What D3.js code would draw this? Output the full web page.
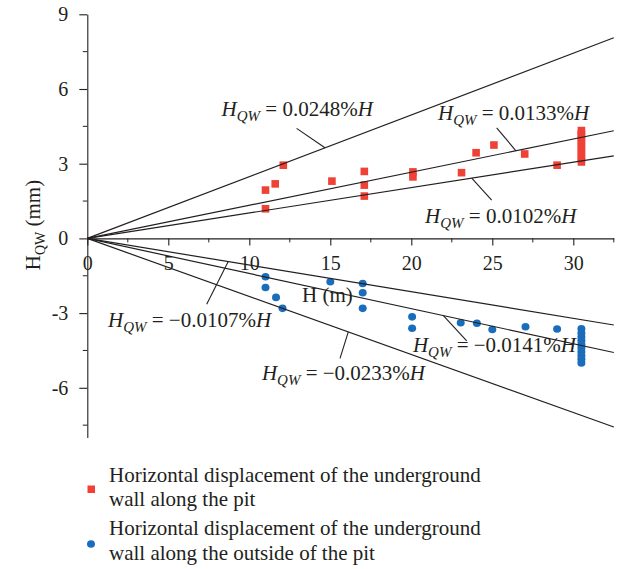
<!DOCTYPE html>
<html>
<head>
<meta charset="utf-8">
<script src="https://cdn.jsdelivr.net/npm/d3@7"></script>
<style>
  body { margin: 0; background: #fff; }
  svg { display: block; }
  text { font-family: "Liberation Serif", "Times New Roman", serif; fill: #231f20; }
</style>
</head>
<body>
<div id="chart"></div>
<script>
// wall along the pit (red squares)
var wallH = [11, 11.6, 12.1, 11, 15.1, 17.1, 17.1, 17.1, 20.1, 20.1, 23.1, 24, 25.1, 27, 29,
             30.5, 30.5, 30.5, 30.5, 30.5, 30.5, 30.5, 30.5, 30.5, 30.5];
var wallV = [1.94, 2.19, 2.94, 1.19, 2.30, 2.69, 2.14, 1.70, 2.67, 2.47, 2.64, 3.44, 3.75, 3.39, 2.94,
             3.07, 3.2, 3.35, 3.5, 3.65, 3.8, 3.95, 4.1, 4.2, 4.33];

// wall along the outside of the pit (blue dots)
var outH = [11, 11, 11.65, 12.05, 15, 17, 17, 17, 20.05, 20.05, 23.05, 24.05, 25, 27.05, 29,
            30.5, 30.5, 30.5, 30.5, 30.5, 30.5, 30.5, 30.5, 30.5, 30.5];
var outV = [-1.54, -1.97, -2.37, -2.81, -1.74, -1.81, -2.18, -2.81, -3.15, -3.61, -3.39, -3.41, -3.66, -3.55, -3.64,
            -3.63, -3.8, -3.95, -4.1, -4.25, -4.4, -4.55, -4.7, -4.85, -5.0];

// fitted lines, H_QW = k% H  (H in m, H_QW in mm)
var slopes = [0.0248, 0.0133, 0.0102, -0.0107, -0.0141, -0.0233];
var slopeText = ["0.0248", "0.0133", "0.0102", "\u22120.0107", "\u22120.0141", "\u22120.0233"];

var xTicks = [0, 5, 10, 15, 20, 25, 30];
var yTicks = [-6, -3, 0, 3, 6, 9];

var legendText = [
  ["Horizontal displacement of the underground", "wall along the pit"],
  ["Horizontal displacement of the underground", "wall along the outside of the pit"]
];

var red = "#ef4136", blue = "#1a6dbb";

var svg = d3.select("#chart").append("svg")
  .attr("width", 618).attr("height", 569);

var x = d3.scaleLinear().domain([0, 32.5]).range([87.3, 613.8]);
var y = d3.scaleLinear().domain([-8, 9]).range([437.6, 14.3]);

function fit(k, h) { return k * 10 * h; }

// y axis
var yAxis = d3.axisLeft(y).tickValues(yTicks).tickSize(8).tickSizeOuter(0).tickPadding(11)
  .tickFormat(function(d) { return d; });
var gy = svg.append("g").attr("transform", "translate(" + x(0) + ",0)").call(yAxis);
gy.selectAll("text").style("font-size", "20px").style("font-family", "Liberation Serif");
gy.append("g").selectAll("line")
  .data(d3.range(-7.5, 9, 3))
  .enter().append("line")
  .attr("x1", -4.5).attr("x2", 0)
  .attr("y1", function(d) { return y(d); }).attr("y2", function(d) { return y(d); })
  .attr("stroke", "#231f20");

// x axis
var xAxis = d3.axisBottom(x).tickValues(xTicks).tickSize(7).tickSizeOuter(0).tickPadding(10);
var gx = svg.append("g").attr("transform", "translate(0," + y(0) + ")").call(xAxis);
gx.selectAll("text").style("font-size", "20px").style("font-family", "Liberation Serif");
gx.append("g").selectAll("line")
  .data(d3.range(2.5, 33, 5))
  .enter().append("line")
  .attr("x1", function(d) { return x(d); }).attr("x2", function(d) { return x(d); })
  .attr("y1", 0).attr("y2", 4)
  .attr("stroke", "#231f20");
svg.selectAll(".domain, .tick line").attr("stroke", "#231f20").attr("stroke-width", 1.1);

// axis titles
svg.append("text").attr("x", 302).attr("y", 302).style("font-size", "21px").text("H (m)");
var yl = svg.append("text")
  .attr("transform", "translate(40,225) rotate(-90)")
  .attr("text-anchor", "middle").style("font-size", "21px");
yl.append("tspan").text("H");
yl.append("tspan").attr("dy", 5).style("font-size", "14px").text("QW");
yl.append("tspan").attr("dy", -5).text(" (mm)");

// points
svg.append("g").selectAll("rect")
  .data(wallH)
  .enter().append("rect")
  .attr("x", function(d) { return x(d) - 3.8; })
  .attr("y", function(d, i) { return y(wallV[i]) - 3.8; })
  .attr("width", 7.6).attr("height", 7.6)
  .attr("fill", red);

svg.append("g").selectAll("ellipse")
  .data(outH)
  .enter().append("ellipse")
  .attr("cx", function(d) { return x(d); })
  .attr("cy", function(d, i) { return y(outV[i]); })
  .attr("rx", 4).attr("ry", 3.8)
  .attr("fill", blue);

// fitted lines
svg.append("g").selectAll("line")
  .data(slopes)
  .enter().append("line")
  .attr("x1", x(0)).attr("y1", y(0))
  .attr("x2", x(32.5)).attr("y2", function(k) { return y(fit(k, 32.5)); })
  .attr("stroke", "#231f20").attr("stroke-width", 1.2);

// labels: [H on the line, leader end H, leader end V, text H, text V]
var anno = [
  [14.67, 12.92, 4.42, 8.29, 4.91],
  [26.46, 25.27, 4.44, 21.65, 4.75],
  [23.73, 24.96, 1.54, 20.85, 0.63],
  [8.70, 7.37, -2.64, 1.28, -3.55],
  [21.98, 23.42, -4.12, 20.1, -4.55],
  [16.11, 15.6, -4.82, 10.78, -5.69]
];

anno.forEach(function(a, i) {
  var k = slopes[i];
  svg.append("line")
    .attr("x1", x(a[0])).attr("y1", y(fit(k, a[0])))
    .attr("x2", x(a[1])).attr("y2", y(a[2]))
    .attr("stroke", "#231f20").attr("stroke-width", 1.1);
  var t = svg.append("text")
    .attr("x", x(a[3])).attr("y", y(a[4]))
    .style("font-size", "21px");
  t.append("tspan").style("font-style", "italic").text("H");
  t.append("tspan").attr("dy", 5).style("font-style", "italic").style("font-size", "15px").text("QW");
  t.append("tspan").attr("dy", -5).text(" = " + slopeText[i] + "%");
  t.append("tspan").style("font-style", "italic").text("H");
});

// legend
var lg = svg.append("g");
lg.append("rect").attr("x", 87.5).attr("y", 485.5).attr("width", 7.5).attr("height", 7.5).attr("fill", red);
lg.append("ellipse").attr("cx", 91).attr("cy", 544).attr("rx", 4).attr("ry", 3.8).attr("fill", blue);
var baseY = [481.5, 535];
legendText.forEach(function(lines, i) {
  lines.forEach(function(s, j) {
    lg.append("text")
      .attr("x", 109).attr("y", baseY[i] + j * 24.5)
      .style("font-size", "21px")
      .text(s);
  });
});
</script>
</body>
</html>
